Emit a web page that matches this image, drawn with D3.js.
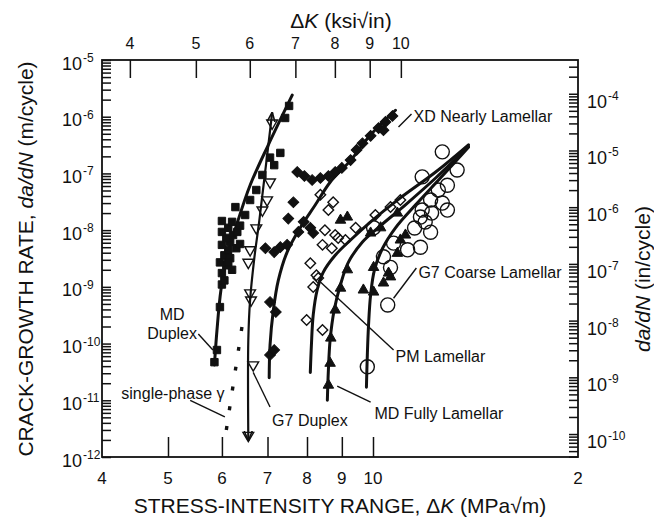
<!DOCTYPE html>
<html>
<head>
<meta charset="utf-8">
<script src="https://cdn.jsdelivr.net/npm/d3@7"></script>
<style>
  body { margin: 0; background: #fff; }
  svg text { font-family: "Liberation Sans", Arial, sans-serif; fill: #111; }
</style>
</head>
<body>
<svg id="chart" width="654" height="522"></svg>
<script>
// ---- tick labels ----
const bottomTicks = [4, 5, 6, 7, 8, 9, 10, 20];
const bottomTickLabels = ["4", "5", "6", "7", "8", "9", "10", "2"];
const topTicks = [4, 5, 6, 7, 8, 9, 10];
const leftExponents = [-12, -11, -10, -9, -8, -7, -6, -5];
const rightExponents = [-10, -9, -8, -7, -6, -5, -4];

// ---- fitted curves (ΔK in MPa√m, da/dN in m/cycle) ----
const mdDuplexK    = [5.85, 5.90, 5.98, 6.11, 6.30, 6.60, 7.02, 7.61];
const mdDuplexRate = [4.2e-11, 1.7e-10, 8.8e-10, 3.6e-9, 1.2e-8, 6.2e-8, 3.2e-7, 2.4e-6];

const g7DuplexK    = [6.56, 6.56, 6.60, 6.69, 6.81, 6.95, 7.11];
const g7DuplexRate = [2.0e-12, 1.15e-10, 5.9e-10, 3.0e-9, 1.5e-8, 1.15e-7, 1.16e-6];

const gammaK    = [6.09, 6.47];
const gammaRate = [3.0e-12, 3.6e-10];

const xdK    = [7.04, 7.06, 7.14, 7.26, 7.48, 7.82, 8.23, 8.65, 9.27, 9.92, 10.79];
const xdRate = [2.5e-11, 9.4e-11, 3.9e-10, 1.3e-9, 4.1e-9, 1.1e-8, 2.8e-8, 7.0e-8, 1.7e-7, 4.8e-7, 1.3e-6];

const pmK    = [8.09, 8.12, 8.17, 8.28, 8.45, 8.80, 9.27, 9.92, 10.97, 12.36, 13.81];
const pmRate = [3.1e-11, 9.4e-11, 3.2e-10, 8.8e-10, 1.8e-9, 3.6e-9, 6.7e-9, 1.4e-8, 3.7e-8, 1.06e-7, 3.2e-7];

const mdFullK    = [8.57, 8.60, 8.65, 8.77, 8.96, 9.20, 9.65, 10.26, 11.16, 12.36, 13.81];
const mdFullRate = [1.0e-11, 3.4e-11, 1.15e-10, 3.9e-10, 1.1e-9, 2.7e-9, 6.2e-9, 1.2e-8, 2.8e-8, 8.3e-8, 3.0e-7];

const g7CoarseK    = [9.78, 9.81, 9.85, 9.92, 10.05, 10.33, 10.79, 11.55, 12.56, 13.81];
const g7CoarseRate = [1.7e-11, 6.3e-11, 2.1e-10, 7.2e-10, 2.0e-9, 4.8e-9, 1.1e-8, 2.8e-8, 8.3e-8, 2.9e-7];

// ---- data points ----
const mdDuplexPtK = [5.85, 5.90, 5.96, 6.00, 6.00, 5.96, 6.05, 6.13, 6.00, 6.17, 6.09, 6.23, 6.32, 6.00, 6.13, 6.38, 6.21,
  6.00, 6.49, 6.28, 6.60, 6.74, 6.88, 7.06, 7.16, 7.31, 7.43, 7.53, 6.17, 6.30, 6.38, 6.09, 6.21, 6.05, 6.13];
const mdDuplexPtRate = [4.7e-11, 7.7e-11, 4.4e-10, 1.1e-9, 1.75e-9, 2.7e-9, 3.6e-9, 4.5e-9, 5.5e-9, 6.2e-9, 7.3e-9, 8.2e-9,
  9.3e-9, 9.3e-9, 1.1e-8, 1.2e-8, 1.4e-8, 1.45e-8, 1.85e-8, 2.55e-8, 3.4e-8, 5.1e-8, 9.4e-8, 1.9e-7, 1.4e-7, 2.3e-7, 9.5e-7,
  1.55e-6, 3.2e-9, 4.8e-9, 5.7e-9, 2.4e-9, 2.0e-9, 1.3e-9, 2.7e-9];

const g7DuplexPtK    = [7.11, 7.06, 6.99, 6.88, 6.74, 6.60, 6.56, 6.60, 6.62, 6.67, 6.56];
const g7DuplexPtRate = [7.7e-7, 7.05e-8, 3.4e-8, 2.26e-8, 1.09e-8, 4.5e-9, 2.7e-9, 7.8e-10, 5.85e-10, 4.2e-11, 2.4e-12];

const xdPtK = [7.06, 7.20, 7.06, 7.16, 7.31, 7.48, 7.51, 7.64, 7.77, 7.91, 8.09, 8.17, 7.74, 7.93, 8.14, 8.37, 8.60, 8.80,
  9.00, 9.27, 9.46, 9.65, 9.92, 10.19, 10.43, 10.68, 10.36, 6.95, 7.16];
const xdPtRate = [5.4e-10, 3.6e-10, 6.3e-11, 7.7e-11, 5.0e-9, 5.5e-9, 1.6e-8, 3.1e-8, 9.3e-9, 1.4e-8, 1.1e-8, 8.9e-9, 1.06e-7,
  9.0e-8, 7.65e-8, 8.3e-8, 9.0e-8, 1.06e-7, 1.25e-7, 1.72e-7, 2.6e-7, 3.4e-7, 4.6e-7, 6.3e-7, 8.1e-7, 1.03e-6, 5.8e-7,
  4.8e-9, 4.1e-9];

const pmPtK    = [7.99, 8.17, 8.43, 8.31, 8.09, 8.26, 8.43, 8.70, 8.50, 8.80, 8.89, 8.60, 8.74, 8.37, 9.11, 9.43, 10.08, 10.61, 10.97];
const pmPtRate = [2.6e-10, 9.9e-10, 1.73e-10, 1.43e-9, 2.6e-9, 1.6e-9, 5.5e-9, 4.8e-9, 1.0e-8, 8.2e-9, 7.3e-9, 2.26e-8,
  3.1e-8, 4.2e-8, 6.7e-9, 1.1e-8, 1.85e-8, 2.55e-8, 3.4e-8];

const mdFullPtK    = [8.60, 8.65, 8.67, 8.80, 8.96, 9.17, 8.96, 9.17, 9.68, 10.02, 10.02, 10.36, 10.54, 10.61, 10.86, 10.97,
  11.16, 9.92, 10.26, 10.86];
const mdFullPtRate = [1.85e-11, 4.5e-11, 1.25e-10, 3.9e-10, 9.5e-10, 2.0e-9, 1.5e-8, 1.7e-8, 8.8e-10, 8.1e-10, 2.2e-9,
  1.17e-9, 1.75e-9, 1.5e-9, 3.9e-9, 6.7e-9, 8.2e-9, 8.9e-9, 1.1e-8, 2.0e-8];

const g7CoarsePtK    = [12.64, 13.29, 11.81, 12.86, 12.47, 12.15, 12.64, 11.81, 12.19, 11.74, 12.86, 11.93, 11.51, 12.15,
  11.74, 11.24, 10.72, 10.36, 10.61, 10.51, 9.81, 10.02];
const g7CoarsePtRate = [2.4e-7, 1.15e-7, 8.7e-8, 6.2e-8, 5.1e-8, 3.4e-8, 3.0e-8, 2.26e-8, 2.0e-8, 1.7e-8, 2.26e-8, 1.39e-8,
  1.09e-8, 9.2e-9, 5.0e-9, 4.5e-9, 5.9e-9, 3.4e-9, 2.2e-9, 4.8e-10, 3.9e-11, 1.1e-8];

// ---- annotations: [text, ΔK, da/dN] and leader lines [[ΔK, da/dN], [ΔK, da/dN]] ----
const labelText = ["XD Nearly Lamellar", "G7 Coarse Lamellar", "PM Lamellar", "MD Fully Lamellar", "G7 Duplex", "single-phase γ"];
const labelK    = [11.47, 11.66, 10.79, 10.05, 7.11, 4.27];
const labelRate = [8.1e-7, 1.43e-9, 4.7e-11, 4.7e-12, 3.5e-12, 1.05e-11];
const leaderLines = [
  [[10.9, 6.6e-7], [11.39, 1.12e-6]],
  [[10.72, 6.3e-10], [11.58, 2.15e-9]],
  [[8.31, 1.32e-9], [10.72, 7.7e-11]],
  [[8.86, 1.78e-11], [9.92, 9.3e-12]],
  [[6.67, 3.1e-11], [7.06, 7.6e-12]],
  [[5.39, 1.0e-11], [6.06, 5.1e-12]],
  [[5.54, 1.47e-10], [5.82, 7.7e-11]]
];
const mdLabelK = 5.07;
const mdLabelRate = [2.6e-10, 1.2e-10];

// ---- chart ----
const svg = d3.select("#chart");
const MPA_PER_KSI = 1.0988, IN_PER_M = 39.37;

const x = d3.scaleLog().domain([4, 20]).range([102, 578]);
const y = d3.scaleLog().domain([1e-12, 1e-5]).range([457, 60]);
const xTop = d3.scaleLog().domain(x.domain().map(d => d / MPA_PER_KSI)).range(x.range());
const yRight = d3.scaleLog().domain(y.domain().map(d => d * IN_PER_M)).range(y.range());

const [x0, x1] = x.range();
const [y0, y1] = y.range();

function logTicks(lo, hi) {
  const out = [];
  for (let e = Math.floor(Math.log10(lo)); e <= Math.ceil(Math.log10(hi)); e++) {
    for (let k = 1; k < 10; k++) {
      const v = k * Math.pow(10, e);
      if (v >= lo * 0.999 && v <= hi * 1.001) out.push(v);
    }
  }
  return out;
}

function styleAxis(g) {
  g.select(".domain").remove();
  g.selectAll(".tick line").attr("stroke", "#111").attr("stroke-width", 1.5);
}

svg.append("g").attr("transform", `translate(${x0},0)`)
  .call(d3.axisLeft(y).tickValues(logTicks(1e-12, 1e-5)).tickSize(-9).tickFormat(""))
  .call(styleAxis);
svg.append("g").attr("transform", `translate(${x1},0)`)
  .call(d3.axisRight(yRight).tickValues(logTicks(...yRight.domain())).tickSize(-9).tickFormat(""))
  .call(styleAxis);
svg.append("g").attr("transform", `translate(0,${y0})`)
  .call(d3.axisBottom(x).tickValues(bottomTicks.slice(1, 7)).tickSize(-20).tickFormat(""))
  .call(styleAxis);
svg.append("g").attr("transform", `translate(0,${y1})`)
  .call(d3.axisTop(xTop).tickValues(topTicks).tickSize(-18).tickFormat(""))
  .call(styleAxis);

svg.append("rect").attr("x", x0).attr("y", y1).attr("width", x1 - x0).attr("height", y0 - y1)
  .attr("fill", "none").attr("stroke", "#111").attr("stroke-width", 1.8);

// tick labels
svg.append("g").selectAll("text").data(bottomTicks).join("text")
  .attr("x", d => x(d)).attr("y", y0 + 27).attr("text-anchor", "middle").attr("font-size", 17)
  .text((d, i) => bottomTickLabels[i]);
svg.append("g").selectAll("text").data(topTicks).join("text")
  .attr("x", d => xTop(d)).attr("y", y1 - 11).attr("text-anchor", "middle").attr("font-size", 16)
  .text(d => d);

const leftLab = svg.append("g").selectAll("g").data(leftExponents).join("g")
  .attr("transform", d => `translate(0,${y(Math.pow(10, d))})`);
leftLab.append("text").attr("x", 82).attr("y", 9.5).attr("text-anchor", "end").attr("font-size", 18).text("10");
leftLab.append("text").attr("x", 83).attr("y", 2).attr("font-size", 12).text(d => d);

const rightLab = svg.append("g").selectAll("g").data(rightExponents).join("g")
  .attr("transform", d => `translate(0,${yRight(Math.pow(10, d))})`);
rightLab.append("text").attr("x", 587).attr("y", 14).attr("font-size", 18).text("10");
rightLab.append("text").attr("x", 608).attr("y", 6).attr("font-size", 12).text(d => d);

// axis titles
const topTitle = svg.append("text").attr("x", 341).attr("y", 28).attr("text-anchor", "middle").attr("font-size", 21);
topTitle.append("tspan").text("Δ");
topTitle.append("tspan").attr("font-style", "italic").text("K");
topTitle.append("tspan").text(" (ksi√in)");

const botTitle = svg.append("text").attr("x", 340).attr("y", 513).attr("text-anchor", "middle").attr("font-size", 21);
botTitle.append("tspan").text("STRESS-INTENSITY RANGE, Δ");
botTitle.append("tspan").attr("font-style", "italic").text("K");
botTitle.append("tspan").text(" (MPa√m)");

const leftTitle = svg.append("text").attr("transform", "translate(33,259) rotate(-90)")
  .attr("text-anchor", "middle").attr("font-size", 21);
leftTitle.append("tspan").text("CRACK-GROWTH RATE, ");
leftTitle.append("tspan").attr("font-style", "italic").text("da/dN");
leftTitle.append("tspan").text(" (m/cycle)");

const rightTitle = svg.append("text").attr("transform", "translate(650,279) rotate(-90)")
  .attr("text-anchor", "middle").attr("font-size", 21);
rightTitle.append("tspan").attr("font-style", "italic").text("da/dN");
rightTitle.append("tspan").text(" (in/cycle)");

// arrow marker for G7 Duplex
svg.append("defs").append("marker").attr("id", "arrow")
  .attr("viewBox", "0 0 10 10").attr("refX", 9).attr("refY", 5)
  .attr("markerWidth", 10).attr("markerHeight", 10).attr("markerUnits", "userSpaceOnUse")
  .attr("orient", "auto-start-reverse")
  .append("path").attr("d", "M0,1 L10,5 L0,9").attr("fill", "none").attr("stroke", "#111").attr("stroke-width", 1.6);

// curves
const line = d3.line().x(d => x(d[0])).y(d => y(d[1])).curve(d3.curveCatmullRom.alpha(0.5));
const zip = (a, b) => a.map((v, i) => [v, b[i]]);
const plot = svg.append("g");

function curve(K, R, attrs) {
  const p = plot.append("path").datum(zip(K, R)).attr("d", line)
    .attr("fill", "none").attr("stroke", "#111").attr("stroke-width", 3).attr("stroke-linecap", "round");
  Object.entries(attrs || {}).forEach(([k, v]) => p.attr(k, v));
  return p;
}

curve(mdDuplexK, mdDuplexRate);
curve(g7DuplexK, g7DuplexRate, { "marker-start": "url(#arrow)", "marker-end": "url(#arrow)", "stroke-width": 2.2 });
curve(gammaK, gammaRate, { "stroke-dasharray": "4,16", "stroke-width": 3.4, "stroke-linecap": "butt" });
curve(xdK, xdRate);
curve(pmK, pmRate);
curve(mdFullK, mdFullRate);
curve(g7CoarseK, g7CoarseRate);

// points
function points(K, R, type, size, filled, rotate) {
  const sym = d3.symbol().type(type).size(size);
  plot.append("g").selectAll("path").data(zip(K, R)).join("path")
    .attr("transform", d => `translate(${x(d[0])},${y(d[1])}) rotate(${rotate || 0})`)
    .attr("d", sym)
    .attr("fill", filled ? "#111" : "#fff").attr("fill-opacity", filled ? 1 : 0)
    .attr("stroke", "#111").attr("stroke-width", filled ? 1 : 1.4);
}

points(mdDuplexPtK, mdDuplexPtRate, d3.symbolSquare, 55, true);
points(g7DuplexPtK, g7DuplexPtRate, d3.symbolTriangle, 50, false, 180);
points(xdPtK, xdPtRate, d3.symbolSquare, 58, true, 45);
points(pmPtK, pmPtRate, d3.symbolSquare, 55, false, 45);
points(mdFullPtK, mdFullPtRate, d3.symbolTriangle, 48, true);
points(g7CoarsePtK, g7CoarsePtRate, d3.symbolCircle, 155, false);

// annotations
svg.append("g").selectAll("line").data(leaderLines).join("line")
  .attr("x1", d => x(d[0][0])).attr("y1", d => y(d[0][1]))
  .attr("x2", d => x(d[1][0])).attr("y2", d => y(d[1][1]))
  .attr("stroke", "#111").attr("stroke-width", 1.4);

svg.append("g").selectAll("text").data(labelText).join("text")
  .attr("x", (d, i) => x(labelK[i])).attr("y", (d, i) => y(labelRate[i]))
  .attr("font-size", 16).text(d => d);

svg.append("g").selectAll("text").data(["MD", "Duplex"]).join("text")
  .attr("x", x(mdLabelK)).attr("y", (d, i) => y(mdLabelRate[i]))
  .attr("text-anchor", "middle").attr("font-size", 16).text(d => d);
</script>
</body>
</html>
